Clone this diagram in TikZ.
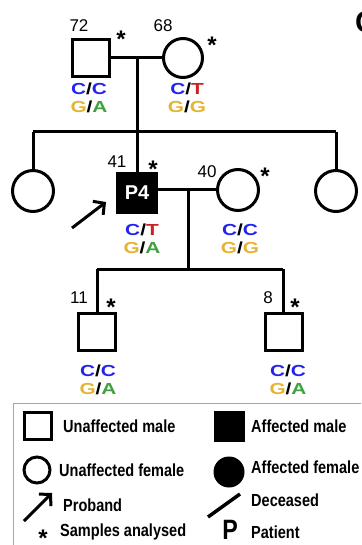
\documentclass[tikz,border=0pt]{standalone}
\usepackage{fontspec}
\setmainfont{Liberation Sans}
\newfontfamily\condfont[FakeStretch=0.83]{Liberation Sans}
\newfontfamily\widefont[FakeStretch=1.3]{Liberation Sans}
\usetikzlibrary{arrows.meta}
\definecolor{gblue}{HTML}{2424EE}
\definecolor{gred}{HTML}{CC2222}
\definecolor{ggold}{HTML}{E6B433}
\definecolor{ggreen}{HTML}{3FA23F}
\newcommand\gtC{\textcolor{gblue}{C}}
\newcommand\gtT{\textcolor{gred}{T}}
\newcommand\gtG{\textcolor{ggold}{G}}
\newcommand\gtA{\textcolor{ggreen}{A}}
\begin{document}
\begin{tikzpicture}[x=1pt,y=-1pt,
 ln/.style={line width=3pt},
 male/.style={draw, line width=3pt, minimum size=37pt, inner sep=0pt},
 female/.style={draw, circle, line width=3pt, minimum size=39pt, inner sep=0pt},
 age/.style={font=\fontsize{17}{18}\selectfont, inner sep=0pt},
 star/.style={font=\bfseries\fontsize{24}{24}\selectfont, inner sep=0pt},
 geno/.style={font=\widefont\bfseries\fontsize{16}{18}\selectfont, align=center, inner sep=0pt},
 leg/.style={font=\condfont\bfseries\fontsize{17.5}{18}\selectfont, anchor=west, inner sep=0pt},
 probarrow/.style={line width=3pt, -{Straight Barb[length=8pt,width=17pt]}}
]
\useasboundingbox (0,0) rectangle (361,545);
\clip (0,0) rectangle (361,545);
\fill[white] (0,0) rectangle (361,545);

% cut-off panel letter
\node[font=\bfseries\fontsize{30}{30}\selectfont, anchor=west, inner sep=0pt] (panel) at (355,22) {C};

% generation I
\node[male] (father) at (91,58) {};
\node[female] (mother) at (183,58) {};
\draw[ln] (father.east) -- (mother.west);
\coordinate (m1) at (137,58);
\coordinate (s1) at (137,132);
\coordinate (s1l) at (33,132);
\coordinate (s1r) at (336,132);
\draw[ln] (m1) -- (s1);
\draw[ln] (s1l) -- (s1r);

\node[age] (a72) at (79,26) {72};
\node[star] (st1) at (121,39) {*};
\node[age] (a68) at (163,26) {68};
\node[star] (st2) at (212,45) {*};
\node[geno] (gfather) at (89,98) {\gtC/\gtC\\\gtG/\gtA};
\node[geno] (gmother) at (187,98) {\gtC/\gtT\\\gtG/\gtG};

% generation II
\node[female, minimum size=41pt] (sis1) at (33,191) {};
\node[female, minimum size=41pt] (sis2) at (336,191) {};
\node[male, fill=black, minimum size=39pt, text=white, font=\bfseries\fontsize{20}{20}\selectfont] (p4) at (137,193) {P4};
\node[female, minimum size=41pt] (spouse) at (238,190) {};
\draw[ln] (s1l) -- (sis1.north);
\draw[ln] (s1r) -- (sis2.north);
\draw[ln] (s1) -- (p4.north);
\coordinate (m2) at (188,190);
\draw[ln] (p4.east |- m2) -- (spouse.west);
\coordinate (s2) at (188,269);
\coordinate (s2l) at (97,269);
\coordinate (s2r) at (283,269);
\draw[ln] (m2) -- (s2);
\draw[ln] (s2l) -- (s2r);

\node[age] (a41) at (117,162) {41};
\node[star] (st3) at (153,169) {*};
\node[age] (a40) at (207,172) {40};
\node[star] (st4) at (265,176) {*};
\coordinate (pa1) at (72,228);
\coordinate (pa2) at (106,202);
\draw[probarrow] (pa1) -- (pa2);
\node[geno] (gp4) at (142,239) {\gtC/\gtT\\\gtG/\gtA};
\node[geno] (gspouse) at (240,239) {\gtC/\gtC\\\gtG/\gtG};

% generation III
\node[male] (son1) at (97,332) {};
\node[male] (son2) at (284,332) {};
\draw[ln] (s2l) -- (son1.north -| s2l);
\draw[ln] (s2r) -- (son2.north -| s2r);
\node[age] (a11) at (79,298) {11};
\node[star] (st5) at (111,307) {*};
\node[age] (a8) at (268,298) {8};
\node[star] (st6) at (295,307) {*};
\node[geno] (gson1) at (98,380) {\gtC/\gtC\\\gtG/\gtA};
\node[geno] (gson2) at (288,380) {\gtC/\gtC\\\gtG/\gtA};

% legend
\draw[gray!70, line width=1pt] (13,403) rectangle (380,560);
\node[draw, line width=3pt, minimum size=27pt, inner sep=0pt] (lum) at (38,426) {};
\node[leg] (tum) at (63,426) {Unaffected male};
\node[draw, fill=black, line width=1pt, minimum size=30pt, inner sep=0pt] (lam) at (229,426) {};
\node[leg] (tam) at (251,426) {Affected male};
\node[draw, circle, line width=3pt, minimum size=26pt, inner sep=0pt] (luf) at (37,470) {};
\node[leg] (tuf) at (59,470) {Unaffected female};
\node[draw, circle, fill=black, line width=1pt, minimum size=30pt, inner sep=0pt] (laf) at (229,472) {};
\node[leg] (taf) at (251,467) {Affected female};
\coordinate (la1) at (24,521);
\coordinate (la2) at (52,493);
\draw[probarrow] (la1) -- (la2);
\node[leg] (tpr) at (63,505) {Proband};
\node[star] (lst) at (43,538) {*};
\node[leg] (tsa) at (60,532) {Samples analysed};
\coordinate (ld1) at (208,517);
\coordinate (ld2) at (240,494);
\draw[line width=3.5pt] (ld1) -- (ld2);
\node[leg] (tde) at (251,500) {Deceased};
\node[font=\condfont\bfseries\fontsize{28}{28}\selectfont, inner sep=0pt] (lp) at (230,530) {P};
\node[leg] (tpa) at (251,532) {Patient};
\end{tikzpicture}
\end{document}
